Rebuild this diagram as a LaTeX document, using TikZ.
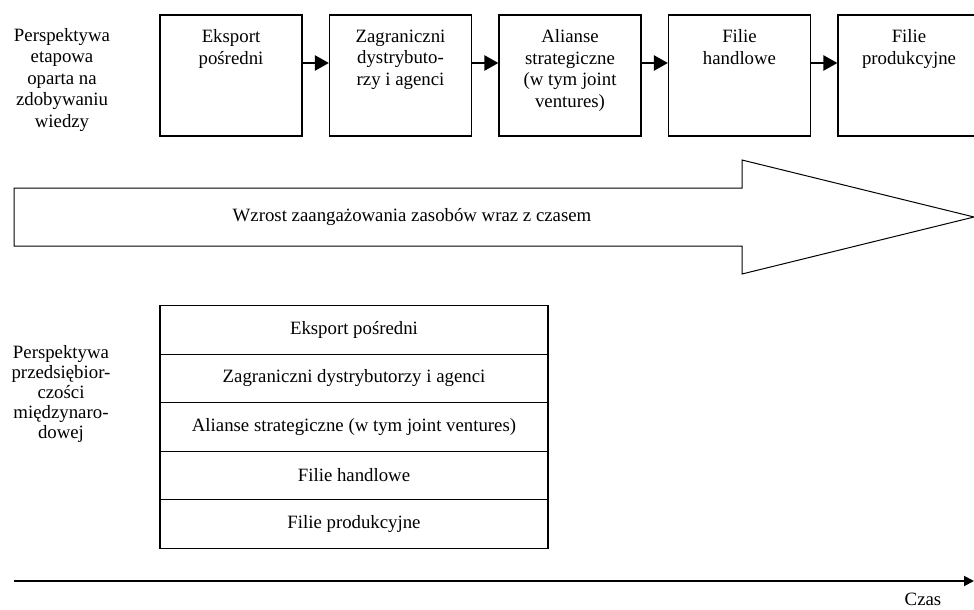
\documentclass[tikz,border=0pt]{standalone}
\usepackage{fontspec}
\setmainfont{Liberation Serif}
\usetikzlibrary{positioning,arrows.meta}

\def\stageGap{169.5}

\tikzset{
    stage/.style={draw,line width=1.2pt,minimum width=142pt,minimum height=121pt,inner sep=0pt},
    stagetext/.style={anchor=north,align=center,inner sep=0pt,yshift=-15pt},
    row/.style={draw,line width=1.2pt,minimum width=388pt,minimum height=48.5pt,inner sep=0pt,outer sep=0pt},
    linkarrow/.style={line width=2.4pt,-{Triangle[length=14pt,width=15pt]}},
}

\begin{document}
\begin{tikzpicture}[x=1pt,y=-1pt,font=\fontsize{18.8}{21.5}\selectfont]
            \useasboundingbox (0,0) rectangle (974,610);
            \clip (0,0) rectangle (974,610);

            % perspektywa etapowa
            \node [align=center] (stagesLabel) at (62,80) {Perspektywa\\etapowa\\oparta na\\zdobywaniu\\wiedzy};

            \foreach \txt [count=\i] in {{Eksport\\pośredni},{Zagraniczni\\dystrybuto-\\rzy i agenci},{Alianse\\strategiczne\\(w tym joint\\ventures)},{Filie\\handlowe},{Filie\\produkcyjne}}{%
                    \node [stage,label={[stagetext]north:\txt}] (s\i) at ({231+(\i-1)*\stageGap},75.5) {};
                }

            \foreach \i [evaluate=\i as \j using int(\i+1)] in {1,...,4}{%
                    \draw [linkarrow] ([yshift=12.5pt]s\i.east) -- ([yshift=12.5pt]s\j.west);
                }

            % wzrost zaangazowania
            \draw [line width=1pt] (14,188) -- (742,188) -- (742,160) -- (974,217) -- (742,274) -- (742,246) -- (14,246) -- cycle;
            \node (growth) at (412,217) {Wzrost zaangażowania zasobów wraz z czasem};

            % perspektywa przedsiebiorczosci
            \node [align=center,font=\fontsize{18.8}{20}\selectfont] (entreLabel) at (61,394) {Perspektywa\\przedsiębior-\\czości\\międzynaro-\\dowej};

            \node [row] (r1) at (354,330) {Eksport pośredni};
            \node [row,below=0pt of r1] (r2) {Zagraniczni dystrybutorzy i agenci};
            \node [row,below=0pt of r2] (r3) {Alianse strategiczne (w tym joint ventures)};
            \node [row,below=0pt of r3] (r4) {Filie handlowe};
            \node [row,below=0pt of r4] (r5) {Filie produkcyjne};

            % os czasu
            \coordinate (t0) at (14,581);
            \coordinate (t1) at (974,581);
            \draw [line width=1.8pt,-{Triangle[length=10pt,width=10pt]}] (t0) -- (t1);
            \node [inner sep=1pt] (time) at (923,599) {Czas};
        \end{tikzpicture}
\end{document}
